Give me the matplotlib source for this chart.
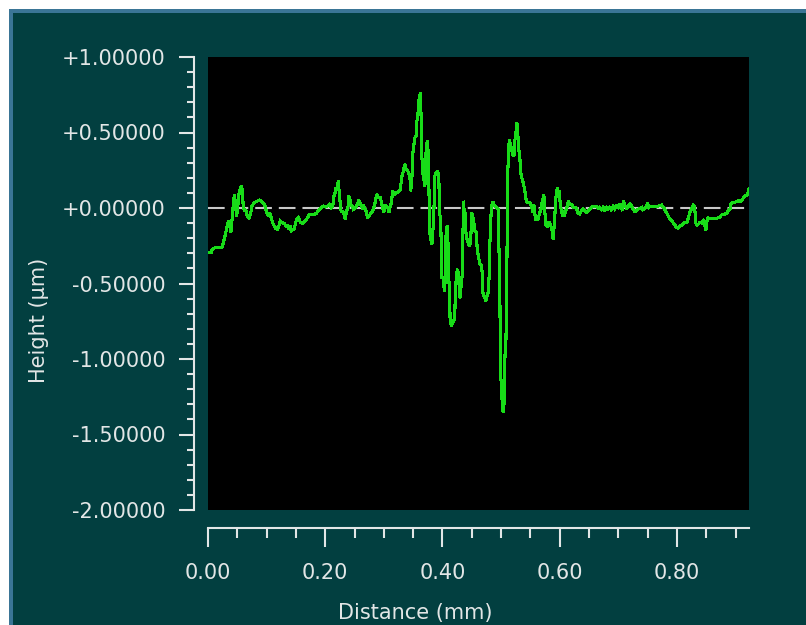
import matplotlib
matplotlib.use("Agg")
import matplotlib.pyplot as plt
from matplotlib.patches import Rectangle
from matplotlib.ticker import MultipleLocator, FixedLocator, FixedFormatter

# Surface profile: distance along the scan (mm) and measured height (µm)
distance_mm = [
    0.000, 0.006, 0.007, 0.012, 0.0245, 0.026, 0.029, 0.031, 0.034, 0.036,
    0.039, 0.040, 0.042, 0.043, 0.045, 0.046, 0.047, 0.049, 0.051, 0.052,
    0.055, 0.057, 0.059, 0.060, 0.062, 0.064, 0.067, 0.070, 0.073, 0.075,
    0.079, 0.084, 0.088, 0.093, 0.097, 0.100, 0.103, 0.105, 0.108, 0.110,
    0.113, 0.116, 0.119, 0.121, 0.123, 0.126, 0.130, 0.133, 0.136, 0.137,
    0.140, 0.142, 0.144, 0.147, 0.149, 0.151, 0.154, 0.158, 0.162, 0.166,
    0.170, 0.173, 0.181, 0.185, 0.189, 0.193, 0.197, 0.200, 0.204, 0.207,
    0.210, 0.213, 0.214, 0.217, 0.218, 0.221, 0.222, 0.224, 0.226, 0.227,
    0.230, 0.232, 0.234, 0.236, 0.239, 0.240, 0.242, 0.244, 0.247, 0.248,
    0.252, 0.255, 0.257, 0.260, 0.263, 0.266, 0.268, 0.270, 0.272, 0.275,
    0.278, 0.281, 0.283, 0.285, 0.288, 0.291, 0.294, 0.296, 0.298, 0.300,
    0.301, 0.304, 0.307, 0.309, 0.311, 0.313, 0.315, 0.318, 0.321, 0.325,
    0.328, 0.331, 0.332, 0.335, 0.337, 0.338, 0.341, 0.344, 0.345, 0.346,
    0.348, 0.349, 0.351, 0.353, 0.355, 0.356, 0.358, 0.359, 0.361, 0.362,
    0.363, 0.364, 0.365, 0.367, 0.369, 0.370, 0.371, 0.372, 0.374, 0.375,
    0.376, 0.378, 0.381, 0.382, 0.383, 0.385, 0.387, 0.389, 0.392, 0.394,
    0.395, 0.397, 0.398, 0.399, 0.402, 0.403, 0.405, 0.406, 0.408, 0.409,
    0.411, 0.412, 0.413, 0.415, 0.417, 0.419, 0.421, 0.422, 0.425, 0.426,
    0.428, 0.429, 0.431, 0.432, 0.434, 0.435, 0.436, 0.438, 0.439, 0.440,
    0.442, 0.444, 0.446, 0.448, 0.449, 0.450, 0.453, 0.455, 0.458, 0.459,
    0.461, 0.463, 0.464, 0.467, 0.468, 0.469, 0.471, 0.474, 0.476, 0.478,
    0.480, 0.481, 0.483, 0.485, 0.487, 0.489, 0.492, 0.495, 0.496, 0.498,
    0.499, 0.501, 0.502, 0.504, 0.505, 0.506, 0.508, 0.510, 0.511, 0.513,
    0.514, 0.516, 0.518, 0.520, 0.522, 0.523, 0.525, 0.526, 0.527, 0.529,
    0.531, 0.532, 0.533, 0.536, 0.537, 0.539, 0.541, 0.543, 0.546, 0.549,
    0.552, 0.554, 0.556, 0.557, 0.559, 0.563, 0.566, 0.568, 0.570, 0.573,
    0.574, 0.576, 0.579, 0.581, 0.583, 0.585, 0.587, 0.589, 0.590, 0.592,
    0.594, 0.596, 0.598, 0.599, 0.601, 0.603, 0.605, 0.606, 0.608, 0.610,
    0.612, 0.613, 0.615, 0.617, 0.620, 0.622, 0.624, 0.628, 0.631, 0.634,
    0.637, 0.640, 0.643, 0.646, 0.648, 0.651, 0.654, 0.657, 0.663, 0.666,
    0.668, 0.671, 0.674, 0.677, 0.680, 0.683, 0.685, 0.688, 0.691, 0.694,
    0.697, 0.700, 0.703, 0.705, 0.707, 0.709, 0.711, 0.714, 0.717, 0.720,
    0.723, 0.725, 0.728, 0.731, 0.734, 0.737, 0.740, 0.742, 0.745, 0.748,
    0.750, 0.752, 0.754, 0.760, 0.765, 0.771, 0.774, 0.777, 0.779, 0.782,
    0.785, 0.788, 0.791, 0.794, 0.797, 0.799, 0.802, 0.805, 0.808, 0.811,
    0.814, 0.817, 0.819, 0.822, 0.825, 0.828, 0.830, 0.831, 0.832, 0.834,
    0.837, 0.839, 0.842, 0.845, 0.847, 0.849, 0.850, 0.852, 0.854, 0.856,
    0.862, 0.868, 0.873, 0.876, 0.879, 0.882, 0.885, 0.888, 0.891, 0.892,
    0.894, 0.896, 0.899, 0.902, 0.905, 0.908, 0.911, 0.913, 0.916, 0.919,
    0.921, 0.923,
]

height_um = [
    -0.296, -0.296, -0.274, -0.263, -0.258, -0.230, -0.185, -0.152, -0.097, -0.086,
    -0.163, -0.119, -0.031, 0.013, 0.091, 0.057, 0.013, -0.053, 0.013, 0.079,
    0.124, 0.150, 0.102, 0.013, -0.020, -0.009, -0.053, -0.064, -0.031, 0.013,
    0.035, 0.046, 0.053, 0.040, 0.018, -0.031, -0.053, -0.031, -0.064, -0.097,
    -0.119, -0.137, -0.141, -0.119, -0.086, -0.097, -0.102, -0.119, -0.119, -0.137,
    -0.119, -0.152, -0.146, -0.137, -0.108, -0.075, -0.064, -0.097, -0.102, -0.086,
    -0.064, -0.042, -0.042, -0.035, -0.013, 0.002, 0.013, 0.007, 0.013, 0.024,
    0.002, 0.013, 0.068, 0.102, 0.128, 0.124, 0.179, 0.102, 0.013, -0.020,
    -0.026, -0.042, -0.075, -0.031, 0.013, 0.084, 0.057, 0.024, 0.002, -0.009,
    0.002, 0.024, 0.053, 0.031, 0.002, 0.013, -0.009, -0.020, -0.064, -0.053,
    -0.031, -0.020, 0.002, 0.035, 0.091, 0.068, 0.068, 0.035, 0.002, -0.031,
    0.013, 0.013, 0.002, -0.031, 0.013, 0.035, 0.113, 0.091, 0.102, 0.106,
    0.124, 0.212, 0.223, 0.278, 0.289, 0.256, 0.245, 0.212, 0.179, 0.113,
    0.212, 0.344, 0.411, 0.466, 0.477, 0.576, 0.587, 0.709, 0.720, 0.764,
    0.653, 0.587, 0.333, 0.212, 0.179, 0.146, 0.212, 0.366, 0.444, 0.377,
    0.389, -0.152, -0.230, -0.241, -0.185, -0.075, 0.212, 0.234, 0.245, 0.168,
    -0.031, -0.075, -0.274, -0.461, -0.461, -0.550, -0.472, -0.185, -0.119, -0.163,
    -0.494, -0.494, -0.737, -0.781, -0.759, -0.748, -0.737, -0.528, -0.417, -0.406,
    -0.472, -0.583, -0.594, -0.472, -0.450, -0.163, 0.046, -0.097, -0.031, -0.163,
    -0.208, -0.230, -0.252, -0.230, -0.130, -0.031, -0.075, -0.152, -0.163, -0.252,
    -0.318, -0.351, -0.373, -0.384, -0.450, -0.561, -0.583, -0.616, -0.583, -0.561,
    -0.428, -0.230, -0.031, 0.035, 0.035, 0.013, 0.002, -0.009, -0.185, -0.583,
    -1.135, -1.146, -1.333, -1.355, -1.300, -0.980, -0.980, -0.362, 0.190, 0.389,
    0.455, 0.422, 0.389, 0.355, 0.344, 0.444, 0.466, 0.543, 0.565, 0.466,
    0.355, 0.344, 0.245, 0.190, 0.179, 0.146, 0.102, 0.046, 0.035, 0.035,
    0.013, -0.031, 0.024, -0.020, -0.075, -0.075, -0.031, -0.009, 0.035, 0.091,
    0.024, -0.108, -0.119, -0.097, -0.097, -0.119, -0.152, -0.208, -0.152, -0.031,
    0.091, 0.135, 0.102, 0.113, 0.024, -0.020, -0.053, -0.020, -0.053, -0.020,
    0.002, 0.013, 0.046, 0.024, 0.024, 0.013, 0.002, 0.002, -0.031, -0.040,
    -0.018, -0.007, -0.018, -0.029, -0.018, -0.007, 0.004, 0.011, 0.011, -0.002,
    0.004, -0.011, 0.004, -0.018, 0.004, -0.007, 0.004, -0.011, 0.011, -0.007,
    0.015, 0.004, 0.026, 0.004, -0.018, 0.049, 0.015, -0.002, 0.011, 0.026,
    0.011, -0.007, -0.024, -0.018, -0.007, -0.002, 0.004, -0.011, -0.002, 0.004,
    0.033, 0.004, 0.011, 0.011, 0.011, 0.015, 0.020, 0.004, -0.007, -0.029,
    -0.051, -0.073, -0.084, -0.099, -0.117, -0.128, -0.132, -0.121, -0.113, -0.106,
    -0.095, -0.095, -0.073, -0.029, -0.007, 0.020, 0.011, -0.029, -0.099, -0.113,
    -0.106, -0.095, -0.099, -0.084, -0.095, -0.150, -0.135, -0.062, -0.073, -0.068,
    -0.068, -0.068, -0.062, -0.046, -0.040, -0.040, -0.033, -0.018, -0.002, 0.026,
    0.033, 0.038, 0.038, 0.042, 0.049, 0.042, 0.049, 0.064, 0.077, 0.086,
    0.093, 0.130,
]

x_major = [0.0, 0.2, 0.4, 0.6, 0.8]
x_labels = ["0.00", "0.20", "0.40", "0.60", "0.80"]
y_major = [1.0, 0.5, 0.0, -0.5, -1.0, -1.5, -2.0]
y_labels = ["+1.00000", "+0.50000", "+0.00000", "-0.50000",
            "-1.00000", "-1.50000", "-2.00000"]
x_range = (0.0, 0.923)
y_range = (-2.0, 1.0)

BG = "#023f40"
FG = "#e2e6e6"
TRACE = "#18dc18"

plt.rcParams["font.family"] = ["DejaVu Sans"]
plt.rcParams["lines.scale_dashes"] = False

W, H = 806, 625
PX = 72 / 100  # points per pixel at 100 dpi
fig = plt.figure(figsize=(W / 100, H / 100), dpi=100, facecolor="white")

# Instrument panel frame: blue edge and dark teal fill, kept behind the axes
fig.patches.append(Rectangle((9 / W, 0), 1 - 9 / W, 1 - 9 / H,
                             transform=fig.transFigure, facecolor="#3a7596",
                             edgecolor="none", zorder=-10))
fig.patches.append(Rectangle((13 / W, 0), 1 - 13 / W, 1 - 13 / H,
                             transform=fig.transFigure, facecolor=BG,
                             edgecolor="none", zorder=-9))

left, right, top, bottom = 208, 749, 57, 510
ax = fig.add_axes([left / W, 1 - bottom / H, (right - left) / W, (bottom - top) / H])
ax.set_zorder(1)
ax.set_facecolor("black")

ax.plot(distance_mm, height_um, color=TRACE, lw=1.5, antialiased=False,
        solid_joinstyle="miter", zorder=3)
ax.axhline(0.0, color="#c8c8c8", lw=1.5, dashes=(12, 5), zorder=2)

ax.set_xlim(*x_range)
ax.set_ylim(*y_range)

for side in ("top", "right"):
    ax.spines[side].set_visible(False)
ax.spines["left"].set_position(("outward", 14 * PX))
ax.spines["bottom"].set_position(("outward", 18 * PX))
for side in ("left", "bottom"):
    ax.spines[side].set_color(FG)
    ax.spines[side].set_linewidth(1.5)

ax.xaxis.set_major_locator(FixedLocator(x_major))
ax.xaxis.set_major_formatter(FixedFormatter(x_labels))
ax.xaxis.set_minor_locator(MultipleLocator(0.05))
ax.yaxis.set_major_locator(FixedLocator(y_major))
ax.yaxis.set_major_formatter(FixedFormatter(y_labels))
ax.yaxis.set_minor_locator(MultipleLocator(0.1))

ax.tick_params(axis="x", which="major", direction="out", length=19 * PX, width=1.5,
               color=FG, labelcolor=FG, labelsize=15, pad=16 * PX)
ax.tick_params(axis="x", which="minor", direction="out", length=10 * PX, width=1.5, color=FG)
ax.tick_params(axis="y", which="major", direction="out", length=15 * PX, width=1.5,
               color=FG, labelcolor=FG, labelsize=15, pad=13 * PX)
ax.tick_params(axis="y", which="minor", direction="out", length=7 * PX, width=1.5, color=FG)

fig.text(415 / W, 1 - 613 / H, "Distance (mm)", color=FG, fontsize=15,
         ha="center", va="center", zorder=2)
fig.text(39 / W, 1 - 320 / H, "Height (µm)", color=FG, fontsize=15,
         ha="center", va="center", rotation=90, zorder=2)

fig.savefig("out.png", dpi=100, facecolor=fig.get_facecolor())
